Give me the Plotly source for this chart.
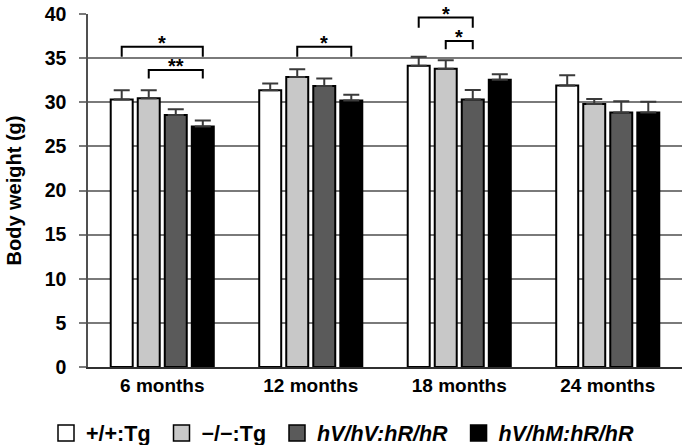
import plotly.graph_objects as go

categories = ["6 months", "12 months", "18 months", "24 months"]
series_names = ["+/+:Tg", "\u2212/\u2212:Tg", "<i>hV/hV:hR/hR</i>", "<i>hV/hM:hR/hR</i>"]
series_colors = ["#ffffff", "#c8c8c8", "#5a5a5a", "#000000"]

wt_tg = [30.3, 31.35, 34.15, 31.9]
ko_tg = [30.45, 32.85, 33.8, 29.8]
hv_hv = [28.55, 31.85, 30.3, 28.85]
hv_hm = [27.25, 30.2, 32.55, 28.85]
values = [wt_tg, ko_tg, hv_hv, hv_hm]

wt_tg_err = [1.05, 0.78, 1.0, 1.15]
ko_tg_err = [0.9, 0.9, 0.97, 0.56]
hv_hv_err = [0.65, 0.83, 1.08, 1.25]
hv_hm_err = [0.67, 0.64, 0.63, 1.2]
errors = [wt_tg_err, ko_tg_err, hv_hv_err, hv_hm_err]

# significance brackets: (group index, bar i, bar j, top value, leg end value, label)
brackets = [
    (0, 0, 3, 36.3, 35.15, "*"),
    (0, 1, 3, 33.65, 32.7, "**"),
    (1, 1, 3, 36.3, 35.15, "*"),
    (2, 0, 2, 39.6, 38.45, "*"),
    (2, 1, 2, 36.95, 36.0, "*"),
]

bar_width = 0.148
bar_pitch = 0.182
first_offset = -0.347
offsets = [first_offset + i * bar_pitch for i in range(4)]

FONT = "Arial, Liberation Sans, sans-serif"
idx = list(range(len(categories)))
legend_pad = "\u00a0"

fig = go.Figure()
for k in range(4):
    fig.add_trace(go.Bar(
        x=idx, y=values[k], width=bar_width, offset=offsets[k],
        marker=dict(color=series_colors[k], line=dict(color="#000000", width=2)),
        error_y=dict(type="data", symmetric=False, array=errors[k],
                     arrayminus=[0] * 4, color="#3a3a3a", thickness=2, width=8),
        showlegend=False, name=series_names[k],
    ))

# legend entries
for k in range(4):
    pad = legend_pad if k < 3 else ""
    fig.add_trace(go.Scatter(
        x=[None], y=[None], mode="markers", name="<b>" + series_names[k] + "</b>" + pad,
        marker=dict(symbol="square", size=20, color=series_colors[k],
                    line=dict(color="#000000", width=1.5)),
    ))

for g, i, j, top, leg, label in brackets:
    x1 = g + offsets[i] + bar_width / 2
    x2 = g + offsets[j] + bar_width / 2
    fig.add_trace(go.Scatter(
        x=[x1, x1, x2, x2], y=[leg, top, top, leg], mode="lines",
        line=dict(color="#000000", width=2), showlegend=False,
        cliponaxis=False, hoverinfo="skip",
    ))
    fig.add_annotation(
        x=(x1 + x2) / 2, y=top, text="<b>" + label + "</b>", showarrow=False,
        yanchor="bottom", yshift=-9, font=dict(family=FONT, size=20, color="#000000"),
    )

fig.update_layout(
    width=685, height=445,
    margin=dict(l=88, r=3, t=10, b=78),
    paper_bgcolor="#ffffff", plot_bgcolor="#ffffff",
    font=dict(family=FONT, color="#000000"),
    legend=dict(orientation="h", x=0.5, xanchor="center", xref="container",
                y=0.027, yanchor="middle", yref="container",
                font=dict(family=FONT, size=21.5, color="#000000"),
                itemsizing="trace", tracegroupgap=0),
)
fig.update_xaxes(
    range=[-0.5, 3.5], tickvals=idx, ticktext=["<b>" + c + "</b>" for c in categories],
    tickfont=dict(family=FONT, size=19, color="#000000"),
    showgrid=False, showline=True, linecolor="#303030", linewidth=2,
    ticks="", zeroline=False,
)
fig.update_yaxes(
    range=[0, 40], dtick=5, tickvals=list(range(0, 41, 5)),
    ticktext=["<b>%d</b>" % v for v in range(0, 41, 5)],
    tickfont=dict(family=FONT, size=19.5, color="#000000"),
    ticklabeloverflow="allow", ticklabelstandoff=9,
    showgrid=True, gridcolor="#7a7a7a", gridwidth=1.5,
    showline=True, linecolor="#505050", linewidth=1.5,
    ticks="outside", ticklen=7, tickcolor="#7a7a7a", tickwidth=1.5,
    zeroline=False,
    title=dict(text="<b>Body weight (g)</b>", font=dict(family=FONT, size=20), standoff=18),
)

fig.write_html("out.html", config={"displayModeBar": False},
               post_script="document.body.style.margin='0';document.body.style.overflow='hidden';")
